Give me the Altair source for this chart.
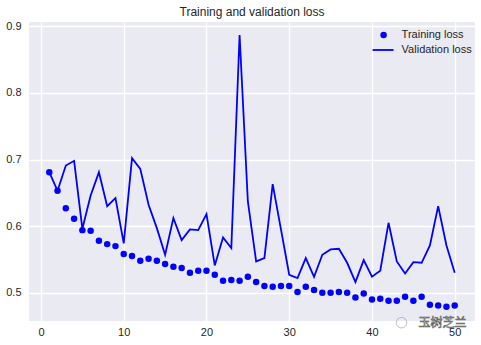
import altair as alt
import pandas as pd

epochs = list(range(1, 51))
train_loss = [0.681, 0.653, 0.627, 0.611, 0.594, 0.593, 0.578, 0.573, 0.570, 0.558,
              0.555, 0.548, 0.551, 0.548, 0.543, 0.539, 0.537, 0.530, 0.533, 0.533,
              0.527, 0.518, 0.519, 0.518, 0.524, 0.516, 0.510, 0.509, 0.510, 0.510,
              0.501, 0.509, 0.504, 0.500, 0.500, 0.501, 0.500, 0.493, 0.499, 0.490,
              0.491, 0.488, 0.488, 0.494, 0.488, 0.494, 0.482, 0.481, 0.479, 0.481]
val_loss = [0.681, 0.653, 0.691, 0.698, 0.596, 0.646, 0.681, 0.630, 0.642, 0.574,
            0.702, 0.686, 0.632, 0.597, 0.557, 0.612, 0.579, 0.595, 0.594, 0.618,
            0.541, 0.583, 0.567, 0.887, 0.637, 0.547, 0.552, 0.663, 0.595, 0.527,
            0.522, 0.552, 0.524, 0.557, 0.565, 0.566, 0.545, 0.516, 0.549, 0.524,
            0.533, 0.605, 0.547, 0.529, 0.546, 0.545, 0.571, 0.630, 0.571, 0.530]
series_labels = ["Training loss", "Validation loss"]
x_ticks = [0, 10, 20, 30, 40, 50]
y_ticks = [0.5, 0.6, 0.7, 0.8, 0.9]
title_text = "Training and validation loss"
watermark = "玉树芝兰"

BLUE = "#0000FF"
FONT = "Liberation Sans"

df = pd.DataFrame({"epoch": epochs, "train": train_loss, "val": val_loss})

xs = alt.Scale(domain=[-1.45, 52.45], nice=False, zero=False)
ys = alt.Scale(domain=[0.4576, 0.9064], nice=False, zero=False)

xax = alt.Axis(values=x_ticks, title=None, labelPadding=5, format="d")
yax = alt.Axis(values=y_ticks, title=None, labelPadding=8, format=".1f")

base = alt.Chart(df)

line = base.mark_line(color=BLUE, strokeWidth=1.8).encode(
    x=alt.X("epoch:Q", scale=xs, axis=xax),
    y=alt.Y("val:Q", scale=ys, axis=yax),
)

pts = base.mark_circle(color=BLUE, size=42, opacity=1).encode(
    x=alt.X("epoch:Q", scale=xs),
    y=alt.Y("train:Q", scale=ys),
)

leg_df = pd.DataFrame({"label": series_labels})

leg_pt = alt.Chart(leg_df.iloc[[0]]).mark_circle(color=BLUE, size=42, opacity=1).encode(
    x=alt.value(354.6), y=alt.value(13)
)
leg_line = alt.Chart(leg_df.iloc[[1]]).mark_rule(color=BLUE, strokeWidth=1.8).encode(
    x=alt.value(343.6), x2=alt.value(364.6), y=alt.value(28)
)
leg_t1 = alt.Chart(leg_df.iloc[[0]]).mark_text(
    align="left", baseline="middle", font=FONT, fontSize=11, color="#262626"
).encode(text="label:N", x=alt.value(372.6), y=alt.value(13))
leg_t2 = alt.Chart(leg_df.iloc[[1]]).mark_text(
    align="left", baseline="middle", font=FONT, fontSize=11, color="#262626"
).encode(text="label:N", x=alt.value(372.6), y=alt.value(28))

wm_icon = alt.Chart(pd.DataFrame({"t": [watermark]})).mark_point(
    shape="circle", filled=False, color="white", stroke="#888888", strokeWidth=0.6,
    size=110, opacity=0.9
).encode(x=alt.value(372.5), y=alt.value(300.7))

wm = alt.Chart(pd.DataFrame({"t": [watermark]})).mark_text(
    align="left", baseline="middle", font="Noto Sans CJK SC", fontSize=12,
    color="white", stroke="#555555", strokeWidth=0.6
).encode(text="t:N", x=alt.value(389.5), y=alt.value(300.7))

chart = alt.layer(line, pts, leg_pt, leg_line, leg_t1, leg_t2, wm_icon, wm).properties(
    width=446,
    height=299,
    background="white",
    title=alt.TitleParams(title_text, font=FONT, fontSize=12, fontWeight="normal",
                          color="#262626", offset=1),
    autosize=alt.AutoSizeParams(type="none"),
    padding={"left": 29, "top": 22, "right": 6, "bottom": 24},
).configure_view(
    fill="#EAEAF2", stroke=None
).configure_axis(
    domain=False, ticks=False, grid=True, gridColor="white", gridWidth=1.3,
    labelFont=FONT, labelFontSize=11, labelColor="#262626"
)

chart.save("out.html", embed_options={"renderer": "svg", "actions": False})
